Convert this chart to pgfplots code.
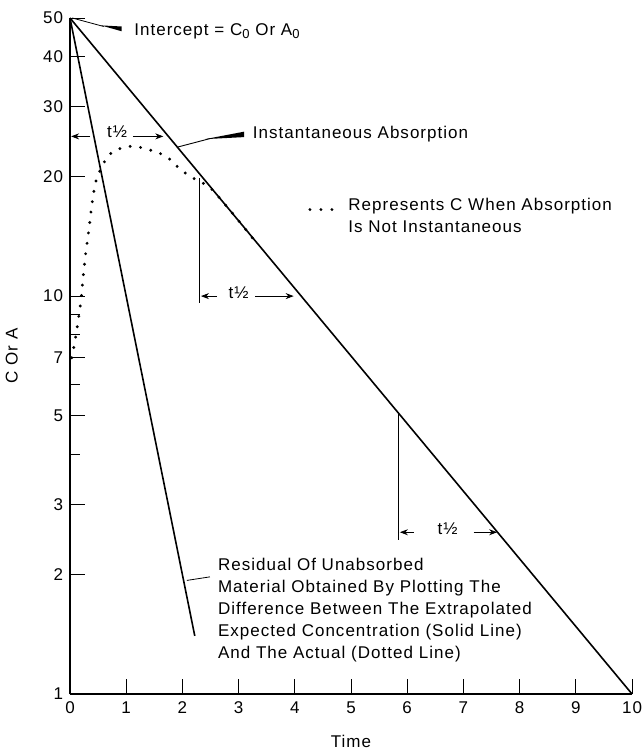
\documentclass[border=0pt]{standalone}
\usepackage{fontspec}
\setmainfont{Liberation Sans}[LetterSpace=6]
\usepackage{pgfplots}
\pgfplotsset{compat=1.18}
\usetikzlibrary{arrows.meta}
\begin{document}
\fontsize{17}{22}\selectfont
\begin{tikzpicture}[>={Stealth[length=8pt,width=6pt]}]
\begin{semilogyaxis}[
  scale only axis, width=562pt, height=676pt,
  xmin=0, xmax=10, ymin=1, ymax=50,
  axis x line*=bottom, axis y line*=left,
  axis line style={line width=1.6pt,-},
  tick align=inside,
  major tick length=15pt, minor tick length=10pt,
  every tick/.style={black, line width=0.8pt},
  xtick={0,1,2,3,4,5,6,7,8,9,10},
  xticklabels={0,1,2,3,4,5,6,7,8,9,10},
  ytick={1,2,3,5,7,10,20,30,40,50},
  yticklabels={1,2,3,5,7,10,20,30,40,50},
  minor ytick={4,6,8,9},
  xticklabel style={yshift=-2pt},
  yticklabel style={xshift=-1pt},
  xlabel={Time}, ylabel={C Or A},
  xlabel style={yshift=-10pt},
  ylabel style={yshift=14pt},
  clip=false,
]
% instantaneous absorption line
\addplot[black, line width=1.6pt] coordinates {(0,50) (10,1)};
% residual line
\addplot[black, line width=1.6pt] coordinates {(0,50) (2.22,1.4)};
% dotted actual concentration
\addplot[black, line width=3.2pt, line cap=round, dash pattern=on 0pt off 10.5pt, smooth, tension=0.5] coordinates {
(0.03,7.0) (0.08,7.6) (0.14,8.6) (0.19,9.6) (0.23,11.0) (0.27,12.5) (0.31,13.8) (0.35,15.2) (0.39,17.0) (0.46,19.4) (0.60,21.6) (0.75,23.0) (0.94,23.6) (1.10,23.8) (1.28,23.6) (1.42,23.3) (1.55,23.0) (1.69,22.5) (1.81,21.9) (1.92,21.1) (2.05,20.4) (2.17,19.9) (2.30,19.4) (2.5,18.7) (2.9,16.1) (3.3,13.7)};
% legend dots
\addplot[black, line width=3.2pt, line cap=round, dash pattern=on 0pt off 11pt] coordinates {(4.27,16.5) (4.72,16.5)};

% vertical guide lines
\draw[line width=0.6pt] (axis cs:2.30,19.8) -- (axis cs:2.30,9.6);
\draw[line width=0.6pt] (axis cs:5.84,5.1) -- (axis cs:5.84,2.44);

% t1/2 arrows
\draw[->, line width=0.8pt] (axis cs:0.36,25.2) -- (axis cs:0.02,25.2);
\draw[->, line width=0.8pt] (axis cs:1.12,25.2) -- (axis cs:1.66,25.2);
\node at (axis cs:0.84,25.9) {t½};
\draw[->, line width=0.8pt] (axis cs:2.62,10) -- (axis cs:2.33,10);
\draw[->, line width=0.8pt] (axis cs:3.30,10) -- (axis cs:3.98,10);
\node at (axis cs:3.0,10.2) {t½};
\draw[->, line width=0.8pt] (axis cs:6.12,2.55) -- (axis cs:5.87,2.55);
\draw[->, line width=0.8pt] (axis cs:7.18,2.55) -- (axis cs:7.60,2.55);
\node at (axis cs:6.72,2.6) {t½};

% intercept label
\draw[line width=0.8pt] (axis cs:0.04,50) -- (axis cs:0.6,47.6);
\fill (axis cs:0.55,47.9) -- (axis cs:0.92,47.6) -- (axis cs:0.92,46.3) -- cycle;
\node[anchor=west] at (axis cs:1.04,46.3) {Intercept = C\raisebox{-0.35ex}{\fontsize{13}{13}\selectfont 0} Or A\raisebox{-0.35ex}{\fontsize{13}{13}\selectfont 0}};

% instantaneous absorption label
\draw[line width=0.9pt] (axis cs:1.92,23.7) -- (axis cs:2.5,24.9);
\fill (axis cs:2.4,24.8) -- (axis cs:3.1,25.9) -- (axis cs:3.1,25.1) -- cycle;
\node[anchor=west] at (axis cs:3.15,25.6) {Instantaneous Absorption};

% represents C
\node[anchor=north west, align=left, inner sep=0pt] at (axis cs:4.95,17.6) {Represents C When Absorption\\Is Not Instantaneous};

% residual label
\draw[line width=0.8pt] (axis cs:2.08,1.93) -- (axis cs:2.49,1.97);
\node[anchor=north west, align=left, inner sep=0pt] at (axis cs:2.63,2.2) {Residual Of Unabsorbed\\Material Obtained By Plotting The\\Difference Between The Extrapolated\\Expected Concentration (Solid Line)\\And The Actual (Dotted Line)};

\coordinate (ll) at (rel axis cs:0,0);
\coordinate (ur) at (rel axis cs:1,1);
\end{semilogyaxis}
\pgfresetboundingbox
\path[use as bounding box] ([shift={(-70pt,-57pt)}]ll) rectangle ([shift={(12pt,18pt)}]ur);
\end{tikzpicture}
\end{document}
